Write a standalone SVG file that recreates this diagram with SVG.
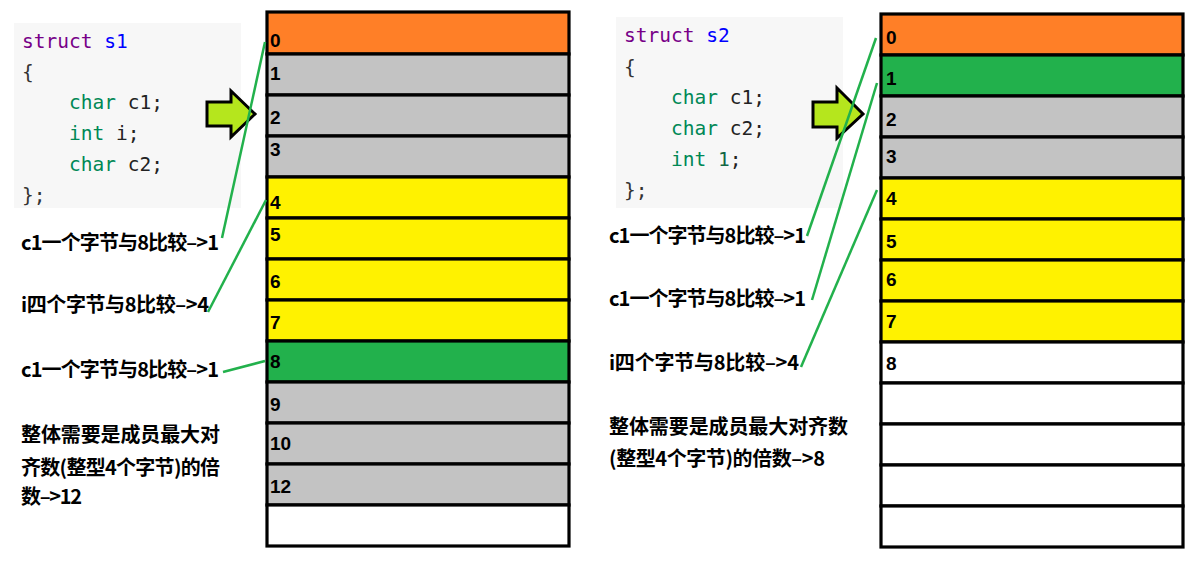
<svg xmlns="http://www.w3.org/2000/svg" width="1202" height="562" viewBox="0 0 1202 562">
<style>
.code{font-family:"DejaVu Sans Mono","Liberation Mono",monospace;font-size:19.5px;fill:#222}
.kw{fill:#770088}.df{fill:#0000ff}.ty{fill:#008855}.nm{fill:#116644}.pn{fill:#333}
.lbl{font-family:"Noto Sans CJK SC","Noto Sans",sans-serif;font-weight:bold;font-size:20px;fill:#000}
.num{font-family:"Liberation Sans",Arial,sans-serif;font-weight:bold;font-size:19px;fill:#000}
.cell{stroke:#000;stroke-width:3.2}
.o{fill:#ff7f27}.g{fill:#c3c3c3}.y{fill:#fff200}.gr{fill:#22b14c}.w{fill:#fff}
.arrow{fill:#b5e61d;stroke:#000;stroke-width:3;stroke-linejoin:miter}
.conn{stroke:#22b14c;stroke-width:2.5;fill:none}
</style>
<rect width="1202" height="562" fill="#fff"/>

<g id="code-s1">
<rect x="14" y="23" width="227" height="185" fill="#f7f7f7"/>
<text class="code" x="22" y="48"><tspan class="kw">struct</tspan> <tspan class="df">s1</tspan></text>
<text class="code pn" x="22" y="79">{</text>
<text class="code" x="69" y="109"><tspan class="ty">char</tspan> c1;</text>
<text class="code" x="69" y="140"><tspan class="ty">int</tspan> i;</text>
<text class="code" x="69" y="171"><tspan class="ty">char</tspan> c2;</text>
<text class="code pn" x="22" y="202">};</text>
</g>

<g id="code-s2">
<rect x="616" y="17" width="227" height="191" fill="#f7f7f7"/>
<text class="code" x="624" y="42"><tspan class="kw">struct</tspan> <tspan class="df">s2</tspan></text>
<text class="code pn" x="624" y="74">{</text>
<text class="code" x="671" y="104"><tspan class="ty">char</tspan> c1;</text>
<text class="code" x="671" y="135"><tspan class="ty">char</tspan> c2;</text>
<text class="code" x="671" y="166"><tspan class="ty">int</tspan> <tspan class="nm">1</tspan>;</text>
<text class="code pn" x="624" y="197">};</text>
</g>

<g id="arrow-s1"><path class="arrow" d="M207,102 L231,102 L231,91 L255,114 L231,137 L231,126 L207,126 Z"/></g>
<g id="arrow-s2"><path class="arrow" d="M813,102 L837,102 L837,88 L863,114 L837,138 L837,127 L813,127 Z"/></g>

<g id="memory-s1">
<rect class="cell o" x="267" y="12" width="302" height="42"/>
<rect class="cell g" x="267" y="54" width="302" height="41"/>
<rect class="cell g" x="267" y="95" width="302" height="41"/>
<rect class="cell g" x="267" y="136" width="302" height="41"/>
<rect class="cell y" x="267" y="177" width="302" height="41"/>
<rect class="cell y" x="267" y="218" width="302" height="41"/>
<rect class="cell y" x="267" y="259" width="302" height="41"/>
<rect class="cell y" x="267" y="300" width="302" height="41"/>
<rect class="cell gr" x="267" y="341" width="302" height="41"/>
<rect class="cell g" x="267" y="382" width="302" height="41"/>
<rect class="cell g" x="267" y="423" width="302" height="41"/>
<rect class="cell g" x="267" y="464" width="302" height="41"/>
<rect class="cell w" x="267" y="505" width="302" height="41"/>
<text class="num" x="270" y="47">0</text>
<text class="num" x="270" y="80">1</text>
<text class="num" x="270" y="124">2</text>
<text class="num" x="270" y="156">3</text>
<text class="num" x="270" y="209">4</text>
<text class="num" x="270" y="241">5</text>
<text class="num" x="270" y="288">6</text>
<text class="num" x="270" y="329">7</text>
<text class="num" x="270" y="368">8</text>
<text class="num" x="270" y="411">9</text>
<text class="num" x="270" y="450">10</text>
<text class="num" x="270" y="493">12</text>
</g>

<g id="memory-s2">
<rect class="cell o" x="881" y="14" width="302" height="41"/>
<rect class="cell gr" x="881" y="55" width="302" height="41"/>
<rect class="cell g" x="881" y="96" width="302" height="41"/>
<rect class="cell g" x="881" y="137" width="302" height="41"/>
<rect class="cell y" x="881" y="178" width="302" height="41"/>
<rect class="cell y" x="881" y="219" width="302" height="41"/>
<rect class="cell y" x="881" y="260" width="302" height="41"/>
<rect class="cell y" x="881" y="301" width="302" height="41"/>
<rect class="cell w" x="881" y="342" width="302" height="41"/>
<rect class="cell w" x="881" y="383" width="302" height="41"/>
<rect class="cell w" x="881" y="424" width="302" height="41"/>
<rect class="cell w" x="881" y="465" width="302" height="41"/>
<rect class="cell w" x="881" y="506" width="302" height="41"/>
<text class="num" x="886" y="44">0</text>
<text class="num" x="886" y="85">1</text>
<text class="num" x="886" y="126">2</text>
<text class="num" x="886" y="163">3</text>
<text class="num" x="886" y="205">4</text>
<text class="num" x="886" y="248">5</text>
<text class="num" x="886" y="286">6</text>
<text class="num" x="886" y="328">7</text>
<text class="num" x="886" y="370">8</text>
</g>

<g id="labels-s1">
<text class="lbl" x="21" y="250" textLength="198">c1一个字节与8比较–&gt;1</text>
<text class="lbl" x="21" y="312" textLength="188">i四个字节与8比较–&gt;4</text>
<text class="lbl" x="21" y="377" textLength="198">c1一个字节与8比较–&gt;1</text>
<text class="lbl" x="21" y="442" textLength="199">整体需要是成员最大对</text>
<text class="lbl" x="21" y="475" textLength="199">齐数(整型4个字节)的倍</text>
<text class="lbl" x="21" y="504" textLength="61">数–&gt;12</text>
</g>

<g id="labels-s2">
<text class="lbl" x="609" y="243" textLength="197">c1一个字节与8比较–&gt;1</text>
<text class="lbl" x="609" y="306" textLength="197">c1一个字节与8比较–&gt;1</text>
<text class="lbl" x="609" y="370" textLength="190">i四个字节与8比较–&gt;4</text>
<text class="lbl" x="609" y="434" textLength="239">整体需要是成员最大对齐数</text>
<text class="lbl" x="609" y="466" textLength="216">(整型4个字节)的倍数–&gt;8</text>
</g>

<g id="connectors">
<line class="conn" x1="222" y1="238" x2="265" y2="42"/>
<line class="conn" x1="208" y1="312" x2="266" y2="200"/>
<line class="conn" x1="223" y1="372" x2="265" y2="361"/>
<line class="conn" x1="807" y1="236" x2="876" y2="38"/>
<line class="conn" x1="812" y1="300" x2="877" y2="83"/>
<line class="conn" x1="801" y1="367" x2="877" y2="190"/>
</g>
</svg>
